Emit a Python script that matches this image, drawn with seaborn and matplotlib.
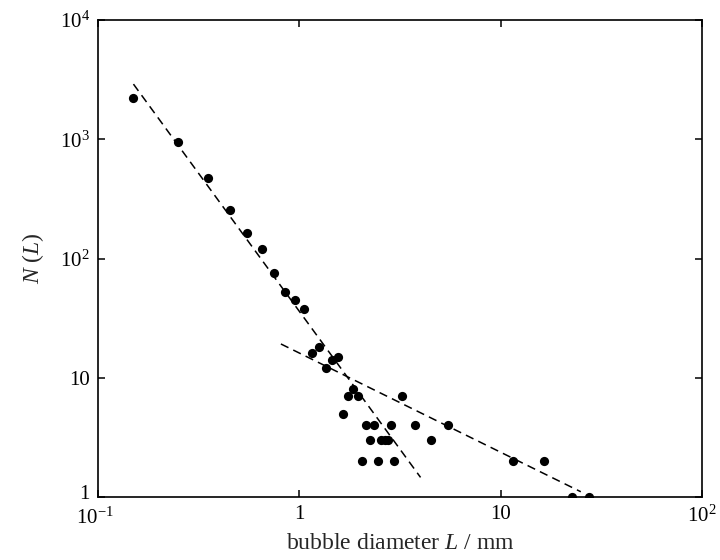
import numpy as np
import pandas as pd
import matplotlib
matplotlib.use("Agg")
import matplotlib.pyplot as plt
import seaborn as sns
from matplotlib.ticker import FixedLocator, FixedFormatter, NullLocator
from matplotlib.transforms import ScaledTranslation

# Data
diameter = [0.15, 0.25, 0.35, 0.45, 0.55, 0.65, 0.75, 0.85, 0.95, 1.05,
            1.15, 1.25, 1.35, 1.45, 1.55, 1.65, 1.75, 1.85, 1.95,
            2.15, 2.35, 2.85, 3.25, 3.75, 5.5,
            2.25, 2.55, 2.65, 2.75, 4.5,
            2.05, 2.45, 2.95, 11.5, 16.5,
            22.5, 27.5]
count = [2200, 950, 470, 255, 165, 120, 75, 52, 45, 38,
         16, 18, 12, 14, 15, 5, 7, 8, 7,
         4, 4, 4, 7, 4, 4,
         3, 3, 3, 3, 3,
         2, 2, 2, 2, 2,
         1, 1]

fit1_x = [0.15, 4.0]
fit1_y = [2900, 1.46]
fit2_x = [0.81, 25.0]
fit2_y = [19.2, 1.107]

xticks = [0.1, 1, 10, 100]
xticklabels = ["10$^{-1}$", "1", "10", "10$^{2}$"]
yticks = [1, 10, 100, 1000, 10000]
yticklabels = ["1", "10", "10$^{2}$", "10$^{3}$", "10$^{4}$"]

sns.set_theme(style="ticks")
plt.rcParams['font.family'] = ['Liberation Serif', 'DejaVu Serif']
plt.rcParams['mathtext.fontset'] = 'custom'
plt.rcParams['mathtext.rm'] = 'Liberation Serif'
plt.rcParams['mathtext.it'] = 'Liberation Serif:italic'
plt.rcParams['mathtext.default'] = 'regular'

fig = plt.figure(figsize=(7.2, 5.6), dpi=100)
ax = fig.add_axes([98/720, 63/560, 604/720, 477/560])

df = pd.DataFrame({"L": diameter, "N": count})
sns.scatterplot(data=df, x="L", y="N", ax=ax, color="black", s=44,
                edgecolor="black", linewidth=0, zorder=3)
sns.lineplot(x=fit1_x, y=fit1_y, ax=ax, color="black", lw=1.1,
             dashes=False, zorder=2)
sns.lineplot(x=fit2_x, y=fit2_y, ax=ax, color="black", lw=1.1,
             dashes=False, zorder=2)
for line in ax.lines:
    line.set_dashes([5.5, 3.5])

ax.set_xscale("log")
ax.set_yscale("log")
ax.set_xlim(0.1, 100)
ax.set_ylim(1, 10000)

ax.xaxis.set_major_locator(FixedLocator(xticks))
ax.xaxis.set_major_formatter(FixedFormatter(xticklabels))
ax.yaxis.set_major_locator(FixedLocator(yticks))
ax.yaxis.set_major_formatter(FixedFormatter(yticklabels))
ax.xaxis.set_minor_locator(NullLocator())
ax.yaxis.set_minor_locator(NullLocator())

ax.tick_params(axis="both", which="major", direction="in", length=5,
               width=1.1, top=True, right=True, labelsize=15, colors="black",
               pad=6)
for sp in ax.spines.values():
    sp.set_linewidth(1.2)
    sp.set_color("black")

# nudge the corner labels apart as in the reference
ylab0 = ax.get_yticklabels()[0]
ylab0.set_transform(ylab0.get_transform() + ScaledTranslation(0, 5/100, fig.dpi_scale_trans))
xlab0 = ax.get_xticklabels()[0]
xlab0.set_transform(xlab0.get_transform() + ScaledTranslation(-3/100, -2/100, fig.dpi_scale_trans))

ax.set_xlabel("bubble diameter $\\mathit{L}$ / mm", fontsize=17, labelpad=3)
ax.set_ylabel("$\\mathit{N}$ ($\\mathit{L}$)", fontsize=17, labelpad=10)
ax.grid(False)

fig.savefig("out.png", dpi=100)
